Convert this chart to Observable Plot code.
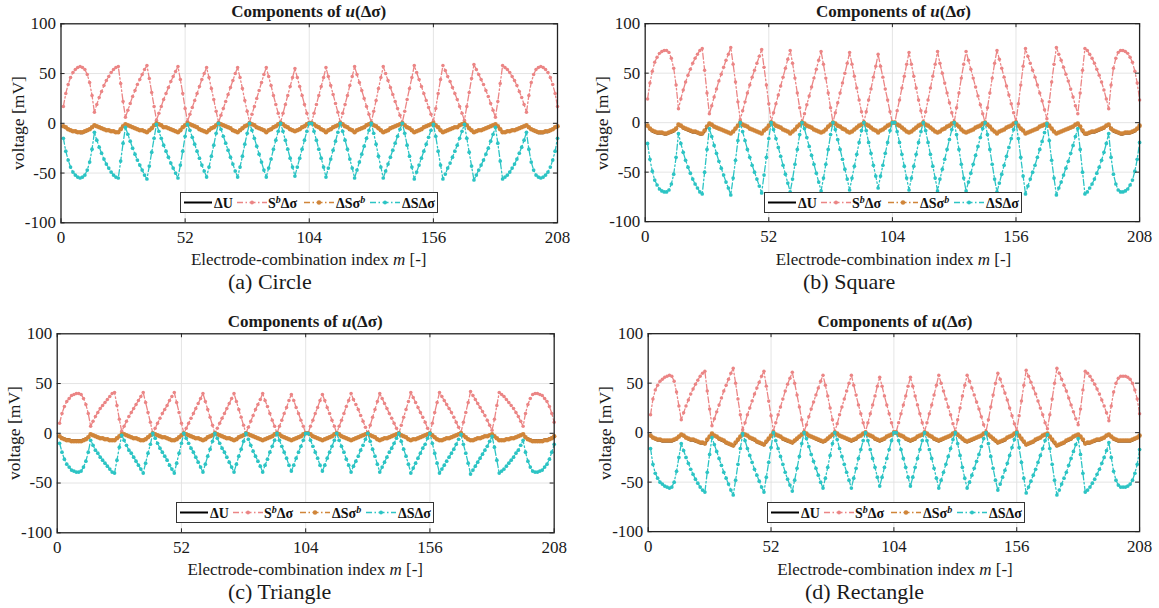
<!DOCTYPE html>
<html><head><meta charset="utf-8">
<script src="https://cdn.jsdelivr.net/npm/d3@7"></script>
<script src="https://cdn.jsdelivr.net/npm/@observablehq/plot@0.6"></script>
<style>
body{margin:0;background:#fff;}
#root{position:relative;width:1159px;height:608px;overflow:hidden;font-family:"Liberation Serif","Times New Roman",serif;color:#1a1a1a;background:#fff;}
.abs{position:absolute;white-space:nowrap;line-height:1;}
.ctr{transform:translate(-50%,-50%);}
.title{font-weight:bold;font-size:17px;}
.xl{font-size:17px;}
.yl{font-size:17.5px;transform:translate(-50%,-50%) rotate(-90deg);}
.cap{font-size:22px;transform:translateY(-50%);}
</style></head><body><div id="root"></div>
<script>
// ---------------- DATA ----------------
const xTicks = [0, 52, 104, 156, 208];
const yTicks = [-100, -50, 0, 50, 100];
const seriesNames = ["ΔU", "S^bΔσ", "ΔSσ^b", "ΔSΔσ"];
const captions = ["(a) Circle", "(b) Square", "(c) Triangle", "(d) Rectangle"];

// (a) Circle
const circleDU = [
-3,-5,-6,-7,-8,-9,-9,-10,-10,-9,-8,-6,-4,
-2,-3,-4,-5,-6,-7,-7,-8,-8,-9,-9,-6,-3,
-1,-2,-3,-4,-5,-6,-7,-7,-8,-9,-7,-5,-2,
0,-1,-2,-4,-4,-5,-6,-7,-8,-9,-7,-4,-2,
0,-1,-2,-3,-4,-6,-7,-8,-9,-7,-5,-4,-2,
0,-1,-2,-3,-4,-5,-7,-8,-9,-7,-5,-3,-2,
0,-1,-2,-4,-5,-6,-7,-9,-7,-6,-4,-3,-1,
0,-1,-3,-4,-6,-7,-8,-7,-6,-4,-3,-1,0,
0,-1,-3,-4,-6,-7,-9,-7,-6,-4,-3,-2,0,
-1,-3,-4,-6,-7,-9,-7,-6,-5,-4,-2,-1,0,
-2,-3,-5,-7,-9,-8,-7,-5,-4,-3,-2,-1,0,
-2,-4,-5,-7,-9,-8,-7,-6,-4,-3,-2,-1,0,
-2,-4,-7,-9,-8,-7,-6,-5,-4,-4,-2,-1,0,
-2,-5,-7,-9,-8,-7,-7,-6,-5,-4,-3,-2,-1,
-3,-6,-9,-9,-8,-8,-7,-7,-6,-5,-4,-3,-2,
-4,-6,-8,-9,-10,-10,-10,-9,-9,-8,-6,-5,-3];
const circleSb = [
17,30,39,46,51,54,56,57,56,54,49,41,28,
11,19,26,32,38,43,47,51,54,56,57,40,22,
6,13,20,27,33,39,44,49,54,58,45,31,17,
3,10,17,24,30,36,42,47,52,57,44,30,15,
2,9,16,23,30,37,44,50,56,46,35,24,12,
1,8,15,22,29,36,43,50,56,46,35,23,12,
1,9,17,25,33,41,49,56,47,38,28,19,10,
1,10,19,28,37,46,55,46,37,28,19,10,1,
1,10,19,28,37,46,56,47,38,29,20,11,1,
10,19,28,38,47,57,49,41,33,25,17,9,1,
12,23,35,46,57,50,43,36,29,22,15,8,1,
12,24,35,46,58,51,44,37,30,23,16,9,2,
15,30,44,58,53,47,42,36,30,24,17,10,3,
17,31,45,59,54,49,44,39,33,27,20,13,6,
22,40,58,56,54,51,47,43,38,32,26,19,11,
28,41,49,54,56,57,56,54,51,46,39,30,17];
const circleDSsb = [
-3,-4,-6,-7,-8,-8,-9,-9,-9,-8,-7,-6,-4,
-2,-3,-4,-5,-6,-7,-7,-8,-8,-9,-9,-6,-3,
-1,-2,-3,-4,-5,-6,-7,-7,-8,-9,-7,-5,-2,
0,-1,-2,-4,-4,-5,-6,-7,-8,-9,-7,-4,-2,
0,-1,-2,-3,-4,-6,-7,-8,-9,-7,-5,-4,-2,
0,-1,-2,-3,-4,-5,-7,-8,-9,-7,-5,-3,-2,
0,-1,-2,-4,-5,-6,-7,-9,-7,-6,-4,-3,-1,
0,-1,-3,-4,-6,-7,-8,-7,-6,-4,-3,-1,0,
0,-1,-3,-4,-6,-7,-9,-7,-6,-4,-3,-2,0,
-1,-3,-4,-6,-7,-9,-7,-6,-5,-4,-2,-1,0,
-2,-3,-5,-7,-9,-8,-7,-5,-4,-3,-2,-1,0,
-2,-4,-5,-7,-9,-8,-7,-6,-4,-3,-2,-1,0,
-2,-4,-7,-9,-8,-7,-6,-5,-4,-4,-2,-1,0,
-2,-5,-7,-9,-8,-7,-7,-6,-5,-4,-3,-2,-1,
-3,-6,-9,-9,-8,-8,-7,-7,-6,-5,-4,-3,-2,
-4,-6,-7,-8,-9,-9,-9,-8,-8,-7,-6,-4,-3];
const circleDSds = [
-15,-28,-37,-44,-49,-52,-54,-55,-54,-52,-47,-39,-26,
-9,-17,-24,-30,-36,-41,-45,-49,-52,-54,-55,-38,-20,
-4,-11,-18,-25,-31,-37,-42,-47,-52,-56,-43,-29,-15,
-1,-8,-15,-22,-28,-34,-40,-45,-50,-55,-42,-28,-13,
-1,-7,-14,-21,-28,-35,-42,-48,-54,-44,-33,-22,-10,
0,-6,-13,-20,-27,-34,-41,-48,-54,-44,-33,-21,-10,
0,-7,-15,-23,-31,-39,-47,-54,-45,-36,-26,-17,-8,
0,-8,-17,-26,-35,-44,-53,-44,-35,-26,-17,-8,0,
0,-8,-17,-26,-35,-44,-54,-45,-36,-27,-18,-9,0,
-8,-17,-26,-36,-45,-55,-47,-39,-31,-23,-15,-7,0,
-10,-21,-33,-44,-55,-48,-41,-34,-27,-20,-13,-6,0,
-10,-22,-33,-44,-56,-49,-42,-35,-28,-21,-14,-7,-1,
-13,-28,-42,-56,-51,-45,-40,-34,-28,-22,-15,-8,-1,
-15,-29,-43,-57,-52,-47,-42,-37,-31,-25,-18,-11,-4,
-20,-38,-56,-54,-52,-49,-45,-41,-36,-30,-24,-17,-9,
-26,-39,-47,-52,-54,-55,-54,-52,-49,-44,-37,-28,-15];

// (b) Square
const squareDU = [
-3,-7,-9,-10,-11,-11,-11,-12,-12,-11,-10,-9,-7,
-2,-3,-6,-7,-8,-9,-10,-10,-11,-12,-12,-9,-4,
-1,-2,-4,-5,-6,-7,-8,-9,-10,-11,-9,-6,-3,
0,-2,-3,-4,-6,-7,-8,-9,-10,-11,-8,-6,-3,
0,-1,-3,-4,-5,-7,-8,-9,-11,-9,-7,-4,-2,
0,-1,-3,-4,-5,-7,-8,-9,-10,-9,-7,-4,-2,
0,-1,-3,-4,-6,-7,-9,-10,-9,-7,-5,-3,-2,
0,-2,-3,-5,-7,-8,-10,-8,-7,-5,-3,-2,0,
0,-2,-3,-5,-7,-9,-10,-9,-7,-5,-3,-2,0,
-2,-3,-5,-7,-9,-10,-9,-7,-6,-4,-3,-1,0,
-2,-4,-7,-9,-10,-9,-8,-7,-5,-4,-3,-1,0,
-2,-4,-7,-9,-11,-9,-8,-7,-5,-4,-3,-1,0,
-3,-6,-8,-11,-10,-9,-8,-7,-6,-4,-3,-2,-1,
-3,-6,-9,-11,-10,-9,-8,-7,-6,-5,-4,-2,-1,
-4,-9,-12,-12,-11,-10,-10,-9,-8,-7,-6,-3,-2,
-7,-9,-10,-11,-12,-12,-11,-11,-11,-10,-9,-7,-3];
const squareSb = [
24,40,52,61,66,70,72,73,73,71,65,55,38,
14,24,33,41,48,54,60,65,69,73,75,53,30,
9,17,26,34,42,49,56,63,69,76,59,41,21,
3,12,21,30,38,46,53,60,67,74,56,38,19,
1,10,19,28,37,46,55,64,73,60,45,30,15,
0,9,18,27,36,45,54,63,72,59,45,30,15,
0,10,20,30,40,50,60,71,59,47,35,23,11,
0,11,23,34,46,57,69,57,46,34,23,11,0,
0,12,23,35,47,59,71,59,47,35,23,12,0,
11,23,35,47,59,72,60,50,40,30,20,10,0,
15,30,45,59,72,63,54,45,36,27,18,9,0,
15,30,45,60,73,64,55,46,37,28,19,10,1,
19,38,57,75,67,60,53,46,38,30,22,13,4,
21,41,59,76,69,63,56,49,42,34,26,17,9,
30,53,75,73,69,65,60,54,48,41,33,24,14,
38,55,65,71,73,73,72,70,66,61,52,40,23];
const squareDSsb = [
-3,-6,-8,-9,-10,-10,-10,-11,-11,-10,-9,-8,-6,
-2,-3,-5,-6,-7,-8,-9,-9,-10,-11,-11,-8,-4,
-1,-2,-4,-5,-6,-7,-8,-9,-10,-11,-9,-6,-3,
0,-2,-3,-4,-6,-7,-8,-9,-10,-11,-8,-6,-3,
0,-1,-3,-4,-5,-7,-8,-9,-11,-9,-7,-4,-2,
0,-1,-3,-4,-5,-7,-8,-9,-10,-9,-7,-4,-2,
0,-1,-3,-4,-6,-7,-9,-10,-9,-7,-5,-3,-2,
0,-2,-3,-5,-7,-8,-10,-8,-7,-5,-3,-2,0,
0,-2,-3,-5,-7,-9,-10,-9,-7,-5,-3,-2,0,
-2,-3,-5,-7,-9,-10,-9,-7,-6,-4,-3,-1,0,
-2,-4,-7,-9,-10,-9,-8,-7,-5,-4,-3,-1,0,
-2,-4,-7,-9,-11,-9,-8,-7,-5,-4,-3,-1,0,
-3,-6,-8,-11,-10,-9,-8,-7,-6,-4,-3,-2,-1,
-3,-6,-9,-11,-10,-9,-8,-7,-6,-5,-4,-2,-1,
-4,-8,-11,-11,-10,-9,-9,-8,-7,-6,-5,-3,-2,
-6,-8,-9,-10,-11,-11,-10,-10,-10,-9,-8,-6,-3];
const squareDSds = [
-21,-37,-49,-58,-63,-67,-69,-70,-70,-68,-62,-52,-35,
-11,-21,-30,-38,-45,-51,-57,-62,-66,-70,-72,-50,-27,
-6,-14,-23,-31,-39,-46,-53,-60,-66,-73,-56,-38,-18,
0,-9,-18,-27,-35,-43,-50,-57,-64,-71,-53,-35,-16,
0,-7,-16,-25,-34,-43,-52,-61,-70,-57,-42,-27,-12,
0,-6,-15,-24,-33,-42,-51,-60,-69,-56,-42,-27,-12,
0,-7,-17,-27,-37,-47,-57,-68,-56,-44,-32,-20,-8,
0,-8,-20,-31,-43,-54,-66,-54,-43,-31,-20,-8,0,
0,-9,-20,-32,-44,-56,-68,-56,-44,-32,-20,-9,0,
-8,-20,-32,-44,-56,-69,-57,-47,-37,-27,-17,-7,0,
-12,-27,-42,-56,-69,-60,-51,-42,-33,-24,-15,-6,0,
-12,-27,-42,-57,-70,-61,-52,-43,-34,-25,-16,-7,0,
-16,-35,-54,-72,-64,-57,-50,-43,-35,-27,-19,-10,-1,
-18,-38,-56,-73,-66,-60,-53,-46,-39,-31,-23,-14,-6,
-27,-50,-72,-70,-66,-62,-57,-51,-45,-38,-30,-21,-11,
-35,-52,-62,-68,-70,-70,-69,-67,-63,-58,-49,-37,-20];

// (c) Triangle
const triangleDU = [
-3,-4,-5,-6,-6,-7,-7,-7,-7,-7,-6,-5,-4,
-1,-2,-3,-4,-5,-5,-6,-6,-7,-7,-7,-5,-3,
-1,-1,-2,-3,-4,-5,-5,-6,-7,-7,-6,-4,-2,
0,-1,-2,-3,-4,-4,-5,-6,-7,-7,-6,-4,-2,
0,-1,-2,-3,-4,-5,-5,-6,-7,-6,-4,-3,-2,
0,-1,-2,-3,-4,-5,-5,-6,-7,-6,-4,-3,-2,
0,-1,-2,-3,-4,-5,-6,-7,-6,-5,-4,-3,-1,
0,-1,-3,-4,-5,-6,-7,-6,-5,-4,-3,-1,0,
0,-1,-3,-4,-5,-6,-7,-6,-5,-4,-3,-1,0,
-1,-3,-4,-5,-6,-7,-6,-5,-4,-3,-2,-1,0,
-2,-3,-4,-6,-7,-6,-5,-5,-4,-3,-2,-1,0,
-2,-3,-4,-6,-7,-6,-6,-5,-4,-3,-2,-1,0,
-2,-4,-6,-7,-7,-6,-5,-5,-4,-3,-2,-1,0,
-2,-4,-6,-7,-7,-6,-5,-5,-4,-3,-3,-2,-1,
-3,-5,-7,-7,-7,-6,-6,-5,-5,-4,-3,-2,-1,
-4,-5,-6,-7,-7,-7,-7,-7,-6,-6,-5,-4,-3];
const triangleSb = [
10,20,27,32,35,38,39,40,40,39,35,29,20,
7,12,17,21,25,28,31,34,37,40,41,28,14,
2,7,12,17,21,25,29,33,37,41,31,21,11,
0,5,10,15,20,24,28,33,37,41,31,21,10,
0,5,10,15,20,25,30,35,40,32,24,16,8,
0,5,10,15,20,25,30,35,40,32,24,16,8,
0,6,12,18,24,29,34,40,33,27,20,13,7,
0,7,13,20,26,33,39,33,26,20,13,7,0,
0,7,13,20,26,33,39,33,26,20,13,7,0,
7,13,20,27,33,40,34,29,24,18,12,6,0,
8,16,24,32,40,35,30,25,20,15,10,5,0,
8,16,24,32,41,36,31,26,21,16,11,5,0,
10,21,31,41,37,33,29,25,21,16,11,6,1,
11,21,31,42,38,34,30,26,22,18,13,8,3,
14,28,41,39,37,34,31,28,25,21,17,12,7,
20,29,35,39,40,40,39,38,35,32,27,20,11];
const triangleDSsb = [
-3,-5,-6,-7,-7,-8,-8,-8,-8,-8,-7,-6,-4,
-1,-2,-3,-4,-5,-5,-6,-6,-7,-7,-7,-5,-3,
-1,-1,-2,-3,-4,-5,-5,-6,-7,-7,-6,-4,-2,
0,-1,-2,-3,-4,-4,-5,-6,-7,-7,-6,-4,-2,
0,-1,-2,-3,-4,-5,-5,-6,-7,-6,-4,-3,-2,
0,-1,-2,-3,-4,-5,-5,-6,-7,-6,-4,-3,-2,
0,-1,-2,-3,-4,-5,-6,-7,-6,-5,-4,-3,-1,
0,-1,-3,-4,-5,-6,-7,-6,-5,-4,-3,-1,0,
0,-1,-3,-4,-5,-6,-7,-6,-5,-4,-3,-1,0,
-1,-3,-4,-5,-6,-7,-6,-5,-4,-3,-2,-1,0,
-2,-3,-4,-6,-7,-6,-5,-5,-4,-3,-2,-1,0,
-2,-3,-4,-6,-7,-6,-6,-5,-4,-3,-2,-1,0,
-2,-4,-6,-7,-7,-6,-5,-5,-4,-3,-2,-1,0,
-2,-4,-6,-7,-7,-6,-5,-5,-4,-3,-3,-2,-1,
-3,-5,-7,-7,-7,-6,-6,-5,-5,-4,-3,-2,-1,
-4,-6,-7,-8,-8,-8,-8,-8,-7,-7,-6,-5,-3];
const triangleDSds = [
-10,-19,-26,-31,-34,-37,-38,-39,-39,-38,-34,-28,-19,
-7,-12,-17,-20,-24,-27,-30,-33,-36,-39,-40,-27,-14,
-2,-7,-12,-17,-20,-24,-28,-32,-36,-40,-30,-20,-11,
0,-5,-10,-15,-19,-23,-27,-32,-36,-40,-30,-20,-10,
0,-5,-10,-15,-19,-24,-29,-34,-39,-31,-23,-16,-8,
0,-5,-10,-15,-19,-24,-29,-34,-39,-31,-23,-16,-8,
0,-6,-12,-18,-23,-28,-33,-39,-32,-26,-19,-13,-7,
0,-7,-13,-19,-25,-32,-38,-32,-25,-19,-13,-7,0,
0,-7,-13,-19,-25,-32,-38,-32,-25,-19,-13,-7,0,
-7,-13,-19,-26,-32,-39,-33,-28,-23,-17,-12,-6,0,
-8,-16,-23,-31,-39,-34,-29,-24,-19,-15,-10,-5,0,
-8,-16,-23,-31,-40,-35,-30,-25,-20,-15,-11,-5,0,
-10,-20,-30,-40,-36,-32,-28,-24,-20,-16,-11,-6,-1,
-11,-20,-30,-41,-37,-33,-29,-25,-21,-17,-13,-8,-3,
-14,-27,-40,-38,-36,-33,-30,-27,-24,-20,-17,-12,-7,
-19,-28,-34,-38,-39,-39,-38,-37,-34,-31,-26,-19,-11];

// (d) Rectangle
const rectangleDU = [
-3,-5,-7,-8,-8,-9,-9,-9,-9,-9,-8,-7,-4,
-2,-3,-5,-7,-8,-8,-9,-10,-11,-11,-12,-8,-4,
-1,-3,-4,-7,-8,-9,-11,-12,-13,-14,-11,-8,-4,
-1,-2,-3,-5,-7,-8,-10,-11,-12,-13,-10,-7,-3,
0,-2,-3,-4,-7,-8,-9,-10,-11,-9,-7,-4,-2,
0,-1,-3,-4,-5,-7,-8,-9,-10,-9,-7,-4,-2,
0,-1,-3,-4,-5,-7,-8,-9,-8,-7,-4,-3,-1,
0,-2,-3,-4,-7,-8,-9,-8,-7,-4,-3,-2,0,
0,-2,-3,-4,-7,-8,-9,-8,-7,-4,-3,-2,0,
-1,-3,-4,-7,-8,-9,-8,-7,-5,-4,-3,-1,0,
-2,-4,-7,-9,-10,-9,-8,-7,-5,-4,-3,-1,0,
-2,-4,-7,-9,-11,-10,-9,-8,-5,-4,-3,-1,0,
-3,-7,-10,-13,-12,-11,-10,-8,-7,-5,-3,-2,-1,
-4,-8,-11,-14,-13,-12,-11,-9,-8,-7,-4,-3,-2,
-4,-8,-12,-11,-11,-10,-9,-8,-8,-7,-5,-3,-2,
-4,-7,-8,-9,-9,-9,-9,-9,-9,-8,-7,-5,-3];
const rectangleSb = [
18,34,43,48,52,54,56,57,58,57,52,41,27,
13,20,27,33,39,44,49,53,57,60,62,42,24,
7,14,21,28,35,42,48,54,60,65,50,34,18,
3,10,18,25,32,39,45,51,57,62,47,32,17,
2,10,18,26,34,42,49,55,61,50,38,26,13,
1,8,16,24,31,38,45,52,58,48,37,25,13,
1,9,18,26,34,42,50,58,48,38,28,19,10,
1,10,19,28,37,47,56,47,37,28,19,10,1,
1,10,19,28,37,47,56,47,37,28,19,10,1,
10,19,28,38,48,58,50,42,34,26,18,9,1,
13,25,37,48,58,52,45,38,31,24,16,8,1,
13,26,38,50,60,54,47,40,33,25,17,9,2,
17,32,48,63,57,51,45,39,32,25,18,10,4,
18,34,50,65,60,54,48,42,35,28,21,14,8,
24,43,62,60,57,53,49,44,39,33,27,20,12,
27,41,50,55,57,57,57,56,54,50,43,34,19];
const rectangleDSsb = [
-3,-5,-6,-7,-7,-8,-8,-8,-8,-8,-7,-6,-4,
-2,-3,-5,-6,-7,-7,-8,-9,-10,-10,-11,-7,-4,
-1,-3,-4,-6,-7,-8,-10,-11,-12,-13,-10,-7,-4,
-1,-2,-3,-5,-6,-7,-9,-10,-11,-12,-9,-6,-3,
0,-2,-3,-4,-6,-7,-8,-9,-10,-8,-6,-4,-2,
0,-1,-3,-4,-5,-6,-7,-8,-9,-8,-6,-4,-2,
0,-1,-3,-4,-5,-6,-7,-8,-7,-6,-4,-3,-1,
0,-2,-3,-4,-6,-7,-8,-7,-6,-4,-3,-2,0,
0,-2,-3,-4,-6,-7,-8,-7,-6,-4,-3,-2,0,
-1,-3,-4,-6,-7,-8,-7,-6,-5,-4,-3,-1,0,
-2,-4,-6,-8,-9,-8,-7,-6,-5,-4,-3,-1,0,
-2,-4,-6,-8,-10,-9,-8,-7,-5,-4,-3,-1,0,
-3,-6,-9,-12,-11,-10,-9,-7,-6,-5,-3,-2,-1,
-4,-7,-10,-13,-12,-11,-10,-8,-7,-6,-4,-3,-2,
-4,-7,-11,-10,-10,-9,-8,-7,-7,-6,-5,-3,-2,
-4,-6,-7,-8,-8,-8,-8,-8,-8,-7,-6,-5,-3];
const rectangleDSds = [
-16,-32,-41,-46,-50,-52,-54,-55,-56,-55,-50,-39,-25,
-11,-18,-25,-31,-37,-42,-47,-51,-55,-58,-60,-40,-22,
-5,-12,-19,-26,-33,-40,-46,-52,-58,-63,-48,-32,-16,
-1,-8,-16,-23,-30,-37,-43,-49,-55,-60,-45,-30,-15,
0,-8,-16,-24,-32,-40,-47,-53,-59,-48,-36,-24,-11,
0,-6,-14,-22,-29,-36,-43,-50,-56,-46,-35,-23,-11,
0,-7,-16,-24,-32,-40,-48,-56,-46,-36,-26,-17,-8,
0,-8,-17,-26,-35,-45,-54,-45,-35,-26,-17,-8,0,
0,-8,-17,-26,-35,-45,-54,-45,-35,-26,-17,-8,0,
-8,-17,-26,-36,-46,-56,-48,-40,-32,-24,-16,-7,0,
-11,-23,-35,-46,-56,-50,-43,-36,-29,-22,-14,-6,0,
-11,-24,-36,-48,-58,-52,-45,-38,-31,-23,-15,-7,0,
-15,-30,-46,-61,-55,-49,-43,-37,-30,-23,-16,-8,-2,
-16,-32,-48,-63,-58,-52,-46,-40,-33,-26,-19,-12,-6,
-22,-41,-60,-58,-55,-51,-47,-42,-37,-31,-25,-18,-10,
-25,-39,-48,-53,-55,-55,-55,-54,-52,-48,-41,-32,-17];

// ---------------- STYLE ----------------
const C_DU = "#000000", C_SB = "#EB8585", C_SS = "#D08539", C_DD = "#2CC4C4";
const FONT = "Liberation Serif, Times New Roman, serif";
const DASH = "6,2.5,1.5,2.5";

const panels = [
  {left: 0,   top: 0,   L: 60.5, W: 496.5, capX: 228, cap: captions[0], du: circleDU,    sb: circleSb,    ss: circleDSsb,    dd: circleDSds},
  {left: 585, top: 0,   L: 60,   W: 497,   capX: 803, cap: captions[1], du: squareDU,    sb: squareSb,    ss: squareDSsb,    dd: squareDSds},
  {left: 0,   top: 310, L: 56.7, W: 497,   capX: 228, cap: captions[2], du: triangleDU,  sb: triangleSb,  ss: triangleDSsb,  dd: triangleDSds},
  {left: 588, top: 310, L: 60,   W: 494,   capX: 805, cap: captions[3], du: rectangleDU, sb: rectangleSb, ss: rectangleDSsb, dd: rectangleDSds}
];

const root = document.getElementById("root");
const MT = 23.3, PH = 199, SVGH = 300;
const rows = arr => arr.map((v, i) => ({m: i + 1, v}));

function addDiv(cls, x, y, html) {
  const d = document.createElement("div");
  d.className = "abs " + cls;
  d.style.left = x + "px";
  d.style.top = y + "px";
  d.innerHTML = html;
  root.appendChild(d);
  return d;
}

function legendSVG() {
  const y = 10.5;
  return `<svg width="258" height="21" style="display:block" font-family="${FONT}" font-weight="bold" font-size="14" fill="#111">
  <rect x="0.5" y="0.5" width="257" height="20" fill="#fff" stroke="#333" stroke-width="1"/>
  <line x1="4" x2="32" y1="${y}" y2="${y}" stroke="${C_DU}" stroke-width="2"/>
  <text x="34" y="15.5">${seriesNames[0]}</text>
  <line x1="57" x2="87" y1="${y}" y2="${y}" stroke="${C_SB}" stroke-width="1.3" stroke-dasharray="${DASH}"/>
  <circle cx="72" cy="${y}" r="1.9" fill="${C_SB}"/>
  <text x="88" y="15.5">S<tspan dy="-5" font-size="10" font-style="italic">b</tspan><tspan dy="5">Δσ</tspan></text>
  <line x1="124" x2="154" y1="${y}" y2="${y}" stroke="${C_SS}" stroke-width="1.5" stroke-dasharray="${DASH}"/>
  <circle cx="139" cy="${y}" r="2.2" fill="${C_SS}"/>
  <text x="156" y="15.5">ΔSσ<tspan dy="-5" font-size="10" font-style="italic">b</tspan></text>
  <line x1="190" x2="220" y1="${y}" y2="${y}" stroke="${C_DD}" stroke-width="1.3" stroke-dasharray="${DASH}"/>
  <circle cx="205" cy="${y}" r="1.9" fill="${C_DD}"/>
  <text x="222" y="15.5">ΔSΔσ</text>
  </svg>`;
}

for (const p of panels) {
  const SVGW = p.L + p.W + 20;
  const chart = Plot.plot({
    width: SVGW, height: SVGH,
    marginLeft: p.L, marginRight: SVGW - p.L - p.W, marginTop: MT, marginBottom: SVGH - MT - PH,
    x: {domain: [0, 208], label: null},
    y: {domain: [-100, 100], label: null},
    style: {fontFamily: FONT, fontSize: "17px", color: "#1a1a1a", background: "transparent", overflow: "visible"},
    marks: [
      Plot.gridX(xTicks.slice(1, -1), {stroke: "#e1e1e1", strokeOpacity: 1, strokeWidth: 0.9}),
      Plot.gridY(yTicks.slice(1, -1), {stroke: "#e1e1e1", strokeOpacity: 1, strokeWidth: 0.9}),
      Plot.line(rows(p.du), {x: "m", y: "v", stroke: C_DU, strokeWidth: 1.8}),
      Plot.line(rows(p.sb), {x: "m", y: "v", stroke: C_SB, strokeWidth: 1.3, strokeDasharray: DASH}),
      Plot.dot(rows(p.sb), {x: "m", y: "v", r: 1.75, fill: C_SB}),
      Plot.line(rows(p.ss), {x: "m", y: "v", stroke: C_SS, strokeWidth: 1.8, strokeDasharray: DASH}),
      Plot.dot(rows(p.ss), {x: "m", y: "v", r: 2.3, fill: C_SS}),
      Plot.line(rows(p.dd), {x: "m", y: "v", stroke: C_DD, strokeWidth: 1.3, strokeDasharray: DASH}),
      Plot.dot(rows(p.dd), {x: "m", y: "v", r: 1.85, fill: C_DD}),
      Plot.frame({stroke: "#222", strokeWidth: 1.3}),
      Plot.ruleX(xTicks, {y1: -100, y2: -96, stroke: "#222"}),
      Plot.ruleX(xTicks, {y1: 100, y2: 96, stroke: "#222"}),
      Plot.ruleY(yTicks, {x1: 0, x2: 1.7, stroke: "#222"}),
      Plot.ruleY(yTicks, {x1: 208, x2: 206.3, stroke: "#222"}),
      Plot.axisX({ticks: xTicks, tickSize: 0, tickPadding: 8, fontSize: 17, label: null, tickFormat: d => String(d)}),
      Plot.axisY({ticks: yTicks, tickSize: 0, tickPadding: 5, fontSize: 17, label: null, tickFormat: d => String(d)})
    ]
  });
  const wrap = document.createElement("div");
  wrap.className = "abs";
  wrap.style.left = p.left + "px";
  wrap.style.top = p.top + "px";
  wrap.appendChild(chart);
  root.appendChild(wrap);

  const pl = p.left + p.L, pr = pl + p.W, pt = p.top + MT, pb = pt + PH, cx = (pl + pr) / 2;
  addDiv("ctr title", cx, pt - 12.5, "Components of <i>u</i>(Δσ)");
  addDiv("ctr xl", cx, pb + 36.5, "Electrode-combination index <i>m</i> [-]");
  addDiv("yl", pl - 42, (pt + pb) / 2, "voltage [mV]");
  addDiv("cap", p.capX, pb + 59.5, p.cap);
  addDiv("", pl + 119, pt + 168.4, legendSVG());
}
</script></body></html>
